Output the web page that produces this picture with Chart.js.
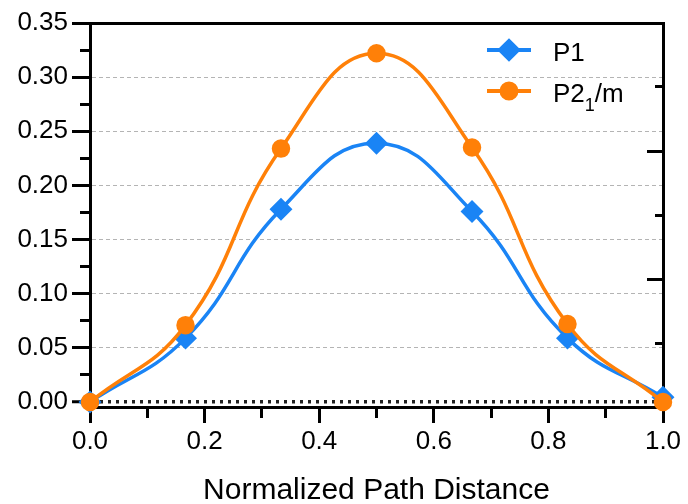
<!DOCTYPE html>
<html>
<head>
<meta charset="utf-8">
<script src="https://cdn.jsdelivr.net/npm/chart.js"></script>
<style>
  html, body { margin: 0; padding: 0; background: #fff; }
</style>
</head>
<body>
<canvas id="pathChart" width="688" height="504"></canvas>
<script>
// values
const distances = [0, 0.1667, 0.3333, 0.5, 0.6667, 0.8333, 1];
const p1Values = [0, 0.059, 0.178, 0.239, 0.176, 0.059, 0.0045];
const p2Values = [0, 0.071, 0.234, 0.322, 0.235, 0.072, 0];
const seriesNames = ["P1", "P2\u2081/m"];

const xTickValues = [0, 0.1, 0.2, 0.3, 0.4, 0.5, 0.6, 0.7, 0.8, 0.9, 1.0];
const yTickValues = [0, 0.025, 0.05, 0.075, 0.1, 0.125, 0.15, 0.175, 0.2, 0.225, 0.25, 0.275, 0.3, 0.325, 0.35];
const rightTickValues = [0, 0.5, 1, 1.5, 2, 2.5, 3];

const blue = "#1a84f5";
const orange = "#ff8008";
const family = "'Liberation Sans', Arial, sans-serif";

const isMajorX = (v) => Math.round(v * 10) % 2 === 0;
const isMajorY = (v) => Math.round(v * 40) % 2 === 0;

// legend drawn inside the plot, with a real subscript for "2_1"
const legendInside = {
  id: "legendInside",
  afterDatasetsDraw(chart) {
    const { ctx, chartArea } = chart;
    chart.data.datasets.forEach((ds, i) => {
      const y = chartArea.top + 27 + i * 41;
      const x0 = chartArea.right - 176;
      ctx.save();
      ctx.strokeStyle = ds.borderColor;
      ctx.lineWidth = 4;
      ctx.beginPath();
      ctx.moveTo(x0, y);
      ctx.lineTo(x0 + 44, y);
      ctx.stroke();
      ctx.fillStyle = ds.backgroundColor;
      Chart.helpers.drawPoint(ctx, {
        pointStyle: ds.pointStyle,
        radius: ds.pointRadius,
        rotation: 0,
        borderWidth: 1,
      }, x0 + 22, y);

      ctx.fillStyle = "#000";
      ctx.textBaseline = "alphabetic";
      ctx.textAlign = "left";
      let tx = x0 + 66;
      const base = y + 11;
      const parts = ds.label.split("\u2081");
      parts.forEach((part, k) => {
        ctx.font = "26px " + family;
        ctx.fillText(part, tx, base);
        tx += ctx.measureText(part).width;
        if (k < parts.length - 1) {
          ctx.font = "18px " + family;
          ctx.fillText("1", tx, base + 9);
          tx += ctx.measureText("1").width;
        }
      });
      ctx.restore();
    });
  },
};

const ctx = document.getElementById("pathChart");

new Chart(ctx, {
  type: "line",
  data: {
    datasets: [
      {
        label: seriesNames[0],
        data: distances.map((x, i) => ({ x: x, y: p1Values[i] })),
        borderColor: blue,
        backgroundColor: blue,
        borderWidth: 3.5,
        pointStyle: "rectRot",
        pointRadius: 9,
        pointHoverRadius: 9,
        tension: 0.45,
        clip: false,
        order: 1,
      },
      {
        label: seriesNames[1],
        data: distances.map((x, i) => ({ x: x, y: p2Values[i] })),
        borderColor: orange,
        backgroundColor: orange,
        borderWidth: 3.5,
        pointStyle: "circle",
        pointRadius: 7.5,
        pointHoverRadius: 7.5,
        tension: 0.45,
        clip: false,
        order: 0,
      },
    ],
  },
  options: {
    responsive: false,
    animation: false,
    devicePixelRatio: 1,
    layout: { padding: { top: 23, right: 25, left: 0, bottom: 0 } },
    plugins: {
      legend: { display: false },
      tooltip: { enabled: false },
    },
    scales: {
      x: {
        type: "linear",
        position: "bottom",
        min: 0,
        max: 1,
        afterBuildTicks: (s) => { s.ticks = xTickValues.map((v) => ({ value: v })); },
        afterFit: (s) => { s.height = 97; },
        ticks: {
          autoSkip: false,
          maxRotation: 0,
          padding: 3,
          color: "#000",
          font: { family: family, size: 26 },
          callback: (v) => (isMajorX(v) ? v.toFixed(1) : ""),
        },
        grid: {
          drawOnChartArea: false,
          tickLength: 16,
          tickWidth: 3,
          tickColor: "#000",
          tickBorderDash: (c) => (c.tick && !isMajorX(c.tick.value) ? [9, 100] : []),
        },
        border: { color: "#000", width: 3 },
        title: {
          display: true,
          text: "Normalized Path Distance",
          color: "#000",
          font: { family: family, size: 30, lineHeight: 1 },
          padding: { top: 0, bottom: -2 },
        },
      },
      x2: {
        type: "linear",
        position: "top",
        min: 0,
        max: 1,
        ticks: { display: false },
        grid: { display: false, drawTicks: false },
        border: { color: "#000", width: 3 },
      },
      y: {
        type: "linear",
        position: "left",
        min: -0.0046,
        max: 0.35,
        afterBuildTicks: (s) => { s.ticks = yTickValues.map((v) => ({ value: v })); },
        afterFit: (s) => { s.width = 90; },
        ticks: {
          autoSkip: false,
          padding: 4,
          color: "#000",
          font: { family: family, size: 26 },
          callback: (v) => (isMajorY(v) ? v.toFixed(2) : ""),
        },
        grid: {
          color: (c) => {
            if (!c.tick) return "rgba(0,0,0,0)";
            const v = c.tick.value;
            if (v === 0) return "#222";
            if (isMajorY(v) && v < 0.34) return "#b4b4b4";
            return "rgba(0,0,0,0)";
          },
          lineWidth: (c) => (c.tick && c.tick.value === 0 ? 3.5 : 1),
          tickLength: 18,
          tickWidth: 3,
          tickColor: "#000",
          tickBorderDash: (c) => (c.tick && !isMajorY(c.tick.value) ? [0, 8, 10, 100] : []),
        },
        border: {
          color: "#000",
          width: 3,
          dash: (c) => (c.tick && c.tick.value === 0 ? [3, 5] : [4, 3]),
        },
      },
      y2: {
        type: "linear",
        position: "right",
        min: 0,
        max: 3,
        afterBuildTicks: (s) => { s.ticks = rightTickValues.map((v) => ({ value: v })); },
        afterFit: (s) => { s.width = 0; },
        ticks: { display: false },
        grid: {
          drawOnChartArea: false,
          tickLength: -16,
          tickWidth: 3,
          tickColor: "#000",
          tickBorderDash: (c) => (c.tick && !Number.isInteger(c.tick.value) ? [10, 100] : []),
        },
        border: { color: "#000", width: 3 },
      },
    },
  },
  plugins: [legendInside],
});
</script>
</body>
</html>
